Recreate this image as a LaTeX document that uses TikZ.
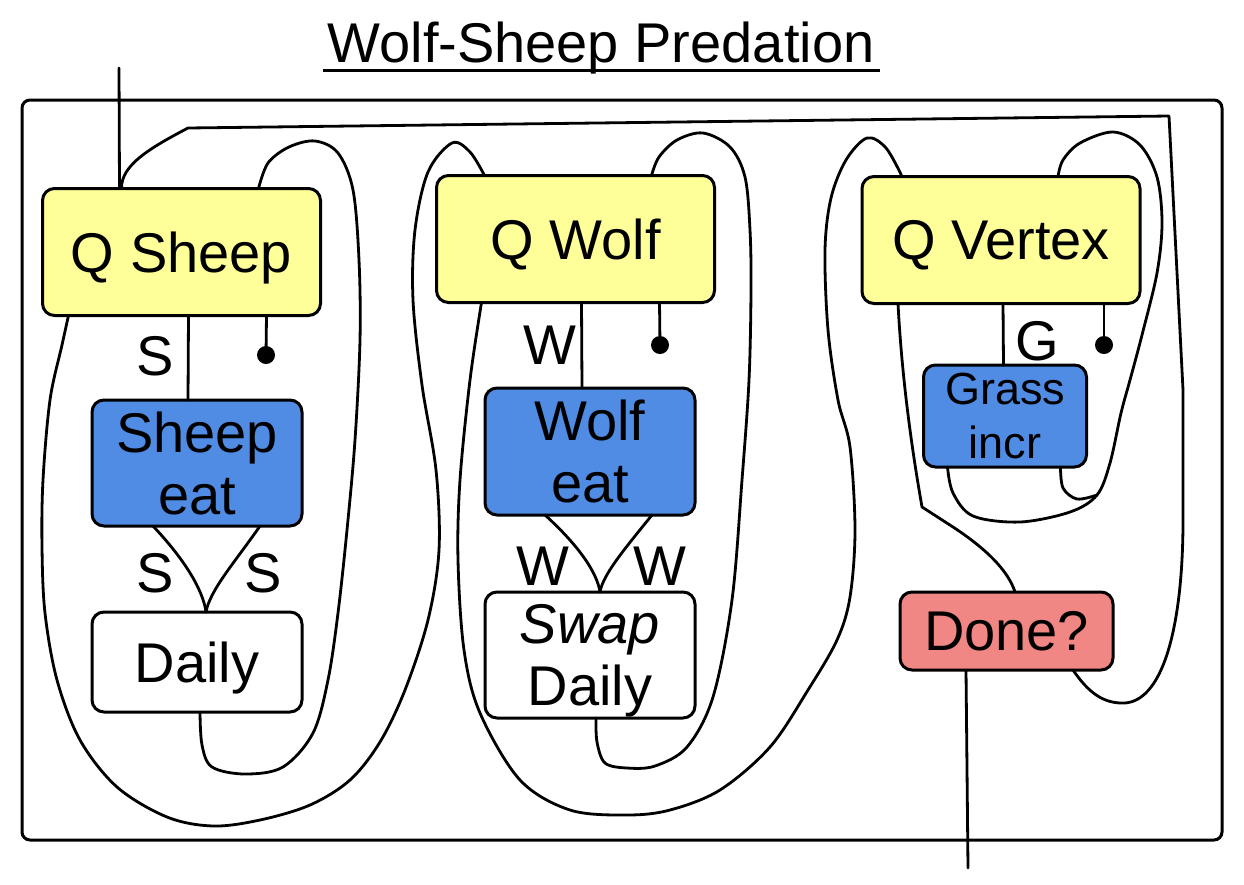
\documentclass[tikz,border=0pt]{standalone}
\usepackage{fontspec}
\setmainfont{Liberation Sans}
\usetikzlibrary{calc}
\definecolor{qyellow}{HTML}{FFFF99}
\definecolor{eatblue}{HTML}{508BE4}
\definecolor{donered}{HTML}{F08784}
\newcommand{\bigfont}{\fontsize{56}{62}\selectfont}
\newcommand{\grassfont}{\fontsize{45}{54}\selectfont}
\begin{document}
\begin{tikzpicture}[x=1pt,y=-1pt,
  wire/.style={line width=2.8pt, line join=round, line cap=round},
  boxbase/.style={draw, line width=3pt, rounded corners=12pt, inner sep=0pt, outer sep=0pt, align=center, font=\bigfont, text depth=0pt},
  qbox/.style={boxbase, fill=qyellow, minimum width=278pt, minimum height=127pt},
  ebox/.style={boxbase, fill=eatblue, minimum width=210pt, minimum height=126pt},
  wbox/.style={boxbase, fill=white, minimum width=210pt, minimum height=126pt},
  dbox/.style={boxbase, fill=donered, minimum width=213pt, minimum height=78pt},
  dotn/.style={circle, fill=black, minimum size=18pt, inner sep=0pt},
  lab/.style={font=\bigfont, inner sep=0pt},
  sm/.style={smooth, tension=0.55}]
\useasboundingbox (0,0) rectangle (1244,884);
% title
\node[font=\bigfont, anchor=base, inner sep=0pt] (title) at (601,62) {Wolf-Sheep Predation};
\draw[line width=3pt] (323,70) -- (880,70);
% frame
\draw[line width=3pt, rounded corners=8pt] (22,100) rectangle (1222,840);

% nodes
\node[qbox] (qs) at (181.5,252) {Q Sheep};
\node[ebox] (se) at (197,463) {Sheep\\eat};
\node[wbox, minimum height=100pt] (dl) at (197,662) {Daily};
\node[qbox] (qw) at (575.5,239) {Q Wolf};
\node[ebox, minimum height=127pt] (we) at (590,451.5) {Wolf\\eat};
\node[wbox] (sd) at (590,655) {\textit{Swap}\\Daily};
\node[qbox] (qv) at (1001,240) {Q Vertex};
\node[ebox, minimum width=163pt, minimum height=102pt, font=\grassfont] (gi) at (1005,416) {Grass\\incr};
\node[dbox] (dn) at (1006.5,631) {Done?};

\node[dotn] (qsd) at (266,355) {};
\node[dotn] (qwd) at (660,345) {};
\node[dotn] (qvd) at (1104,345) {};

% ports
\coordinate (start) at (119,68);
\coordinate (finish) at (968,868);
\coordinate (qsIn) at ($(qs.north west)+(77,0)$);
\coordinate (qsRet) at ($(qs.north west)+(79,0)$);
\coordinate (qsLoop) at ($(qs.north west)+(216,0)$);
\coordinate (qsC) at ($(qs.south west)+(26,0)$);
\coordinate (qsS) at ($(qs.south west)+(146,0)$);
\coordinate (qsD) at ($(qs.south west)+(224,0)$);
\coordinate (seN) at ($(se.north west)+(96,0)$);
\coordinate (seL) at ($(se.south west)+(61,0)$);
\coordinate (seR) at ($(se.south west)+(168,0)$);
\coordinate (dlN) at ($(dl.north west)+(114,0)$);
\coordinate (dlS) at ($(dl.south west)+(108,0)$);
\coordinate (qwL) at ($(qw.north west)+(48,0)$);
\coordinate (qwLoop) at ($(qw.north west)+(215,0)$);
\coordinate (qwC) at ($(qw.south west)+(45,0)$);
\coordinate (qwW) at ($(qw.south west)+(145,0)$);
\coordinate (qwD) at ($(qw.south west)+(223,0)$);
\coordinate (weN) at ($(we.north west)+(97,0)$);
\coordinate (weL) at ($(we.south west)+(60,0)$);
\coordinate (weR) at ($(we.south west)+(167,0)$);
\coordinate (sdN) at ($(sd.north west)+(115,0)$);
\coordinate (sdS) at ($(sd.south west)+(111,0)$);
\coordinate (qvL) at ($(qv.north west)+(40,0)$);
\coordinate (qvLoop) at ($(qv.north west)+(196,0)$);
\coordinate (qvC) at ($(qv.south west)+(36,0)$);
\coordinate (qvG) at ($(qv.south west)+(141,0)$);
\coordinate (qvD) at ($(qv.south west)+(242,0)$);
\coordinate (giN) at ($(gi.north west)+(80,0)$);
\coordinate (giL) at ($(gi.south west)+(24,0)$);
\coordinate (giR) at ($(gi.south west)+(137,0)$);
\coordinate (dnN) at ($(dn.north west)+(115,0)$);
\coordinate (dnS) at ($(dn.south west)+(66,0)$);
\coordinate (dnR) at ($(dn.south west)+(173,0)$);
\coordinate (gm) at (1097,495);

% straight wires
\draw[wire] (start) -- (qsIn);
\draw[wire] (qsS) -- (seN);
\draw[wire] (qsD) -- (qsd.center);
\draw[wire] (qwW) -- (weN);
\draw[wire] (qwD) -- (qwd.center);
\draw[wire] (qvG) -- (giN);
\draw[wire] (qvD) -- (qvd.center);
\draw[wire] (dnS) -- (finish);

% eat -> daily
\draw[wire] (seL) .. controls (185,560) and (203,590) .. (dlN);
\draw[wire] (seR) .. controls (235,562) and (210,590) .. (dlN);
\draw[wire] (weL) .. controls (578,545) and (597,572) .. (sdN);
\draw[wire] (weR) .. controls (622,552) and (603,575) .. (sdN);

% done? -> back to Q Sheep
\draw[wire] (dnR) .. controls (1088,692) and (1103,704) .. (1125,703)
  .. controls (1165,700) and (1183,620) .. (1183,520) -- (1183,390) -- (1169,116)
  -- (188,128) .. controls (150,148) and (121,165) .. (qsRet);

% sheep loop
\draw[wire] plot[sm] coordinates {(dlS) (202,745) (212,767) (245,774) (283,767) (313,733) (328,680) (338,613) (347,530) (355,440) (360,340) (359,260) (353,190) (338,153) (315,141) (289,147) (268,163) (qsLoop)};

% sheep continue -> Q Wolf
\draw[wire] plot[sm] coordinates {(qsC) (62,345) (50,400) (43,480) (42,547) (45,613) (57,680) (80,740) (117,787) (167,817) (213,826) (260,820) (310,805) (350,780) (380,742) (405,690) (428,620) (439,550) (436,470) (422,385) (413,300) (415,230) (428,172) (452,143) (470,152) (qwL)};

% wolf loop
\draw[wire] plot[sm] coordinates {(sdS) (597,742) (605,763) (627,768) (655,766) (687,747) (713,697) (732,600) (742,480) (749,380) (751,290) (750,230) (745,177) (730,147) (703,133) (677,140) (659,157) (qwLoop)};

% wolf continue -> Q Vertex
\draw[wire] plot[sm] coordinates {(qwC) (470,380) (460,480) (458,560) (464,650) (480,713) (520,780) (570,810) (627,815) (670,810) (720,790) (770,747) (808,690) (837,640) (850,597) (855,530) (850,447) (838,400) (828,330) (825,250) (831,198) (846,160) (867,138) (886,148) (qvL)};

% vertex continue -> Done?
\draw[wire] (qvC) .. controls (902,380) and (912,450) .. (922,507) -- (953,527)
  .. controls (985,548) and (1008,570) .. (dnN);

% grass loop
\draw[wire] plot[sm] coordinates {(giL) (953,493) (973,516) (1020,522) (1070,512) (gm) (1110,463) (1121,413) (1130,380) (1142,335) (1157,273) (1162,223) (1157,177) (1140,145) (1113,132) (1080,143) (1063,160) (qvLoop)};
\draw[wire] plot[sm] coordinates {(giR) (1063,488) (1077,499) (gm)};

% labels
\node[lab] (l1) at (155,356) {S};
\node[lab] (l2) at (155,573) {S};
\node[lab] (l3) at (263,573) {S};
\node[lab] (l4) at (550,345) {W};
\node[lab] (l5) at (543,566) {W};
\node[lab] (l6) at (660,566) {W};
\node[lab] (l7) at (1037,341) {G};
\end{tikzpicture}
\end{document}
